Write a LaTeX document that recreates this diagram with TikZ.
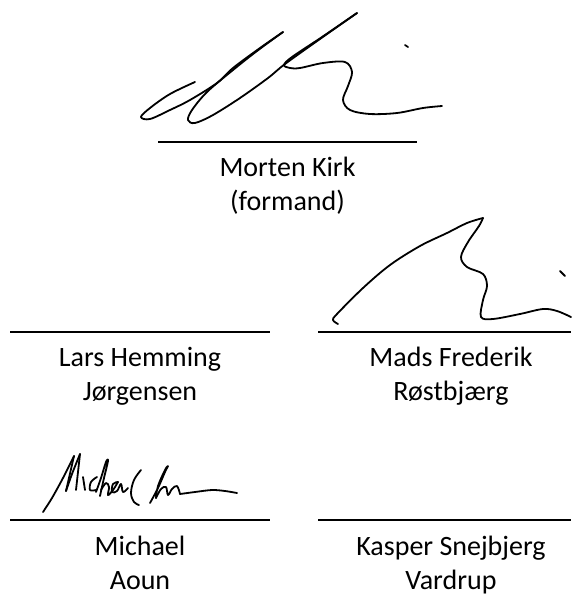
\documentclass[tikz,border=0pt]{standalone}
\usepackage{fontspec}
\setmainfont{Carlito}
\begin{document}
\begin{tikzpicture}[x=1pt,y=-1pt,
  rule/.style={line width=1.5pt},
  sig/.style={line width=1.8pt,line cap=round,line join=round},
  person/.style={anchor=base,inner sep=0pt,font=\fontsize{28}{34}\selectfont,text=black}]
\useasboundingbox (0,0) rectangle (571,595);
% signature lines
\coordinate (t1) at (158,142); \coordinate (t2) at (417,142);
\coordinate (l1) at (10,332);  \coordinate (l2) at (270,332);
\coordinate (r1) at (318,332); \coordinate (r2) at (571,332);
\coordinate (m1) at (10,520);  \coordinate (m2) at (270,520);
\coordinate (k1) at (318,520); \coordinate (k2) at (571,520);
\draw[rule] (t1) -- (t2);
\draw[rule] (l1) -- (l2);
\draw[rule] (r1) -- (r2);
\draw[rule] (m1) -- (m2);
\draw[rule] (k1) -- (k2);
% names
\node[person] (mk1) at (287.5,176) {Morten Kirk};
\node[person] (mk2) at (287.5,210) {(formand)};
\node[person] (lh1) at (140,366) {Lars Hemming};
\node[person] (lh2) at (140,400) {Jørgensen};
\node[person] (mf1) at (451,366) {Mads Frederik};
\node[person] (mf2) at (451,400) {Røstbjærg};
\node[person] (ma1) at (140,555) {Michael};
\node[person] (ma2) at (140,589) {Aoun};
\node[person] (ks1) at (451,555) {Kasper Snejbjerg};
\node[person] (ks2) at (451,589) {Vardrup};
% signature 1 (Morten Kirk)
\draw[sig] plot[smooth,tension=0.55] coordinates {(195,82) (170,94) (150,108) (141,117) (150,119) (170,110) (190,100) (217,83) (233,68) (260,48) (283,32)};
\draw[sig] plot[smooth,tension=0.55] coordinates {(283,32) (257,51) (233,70) (207,92) (192,110) (188,120) (195,123) (213,115) (240,98) (268,78) (285,64) (320,39) (357,13)};
\draw[sig] plot[smooth,tension=0.55] coordinates {(357,13) (322,37) (292,57) (284,65) (290,68) (300,68) (323,63) (345,62) (352,72) (348,86) (343,100) (350,110) (370,114) (397,113) (423,108) (442,106)};
\draw[sig] (405,45) -- (408,47);
% signature 2 (Mads Frederik)
\draw[sig] plot[smooth,tension=0.55] coordinates {(338,324) (333,320) (337,314) (363,288) (390,265) (420,246) (447,233) (467,223) (483,218)};
\draw[sig] plot[smooth,tension=0.55] coordinates {(483,218) (479,226) (468,242) (461,257) (467,267) (483,274) (487,286) (483,300) (481,317) (493,319) (520,314) (543,309) (557,311) (571,317)};
\draw[sig] (560,271) -- (565,276);
% signature 3 (Michael Aoun)
\draw[sig] plot[smooth,tension=0.5] coordinates {(43,512) (52,498) (63,478) (74,456)};
\draw[sig] (74,456) -- (66,491);
\draw[sig] plot[smooth,tension=0.5] coordinates {(66,491) (72,474) (80,454)};
\draw[sig] (80,454) -- (76,490);
\draw[sig] (83,477) -- (85,490);
\draw[sig] plot[smooth,tension=0.6] coordinates {(97,477) (91,482) (90,490) (96,490)};
\draw[sig] plot[smooth,tension=0.6] coordinates {(96,492) (101,478) (106,462) (108,461) (104,478) (100,496)};
\draw[sig] plot[smooth,tension=0.6] coordinates {(101,490) (106,483) (109,487) (108,495) (113,490) (118,482)};
\draw[sig] plot[smooth,tension=0.6] coordinates {(118,482) (113,484) (112,492) (117,491) (121,484) (123,492) (128,488)};
\draw[sig] plot[smooth,tension=0.6] coordinates {(141,470) (134,480) (131,493) (134,502) (139,505)};
\draw[sig] plot[smooth,tension=0.6] coordinates {(150,503) (158,488) (165,472) (168,466) (165,470) (158,486) (156,498)};
\draw[sig] plot[smooth,tension=0.6] coordinates {(156,498) (161,489) (166,487) (168,495) (172,489) (177,486) (180,494)};
\draw[sig] plot[smooth,tension=0.5] coordinates {(180,494) (195,492) (212,490) (225,491) (237,493)};
\end{tikzpicture}
\end{document}
